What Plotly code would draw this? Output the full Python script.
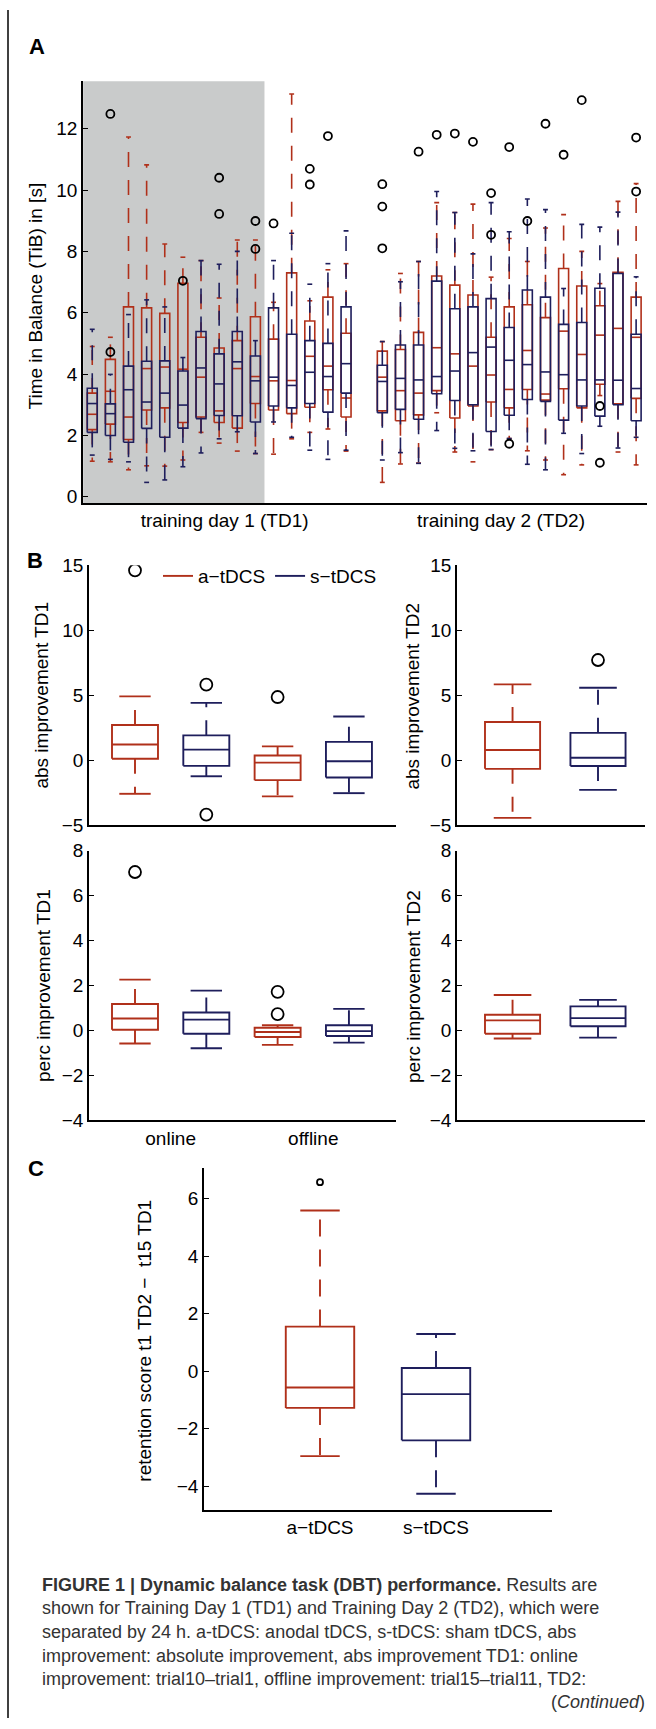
import plotly.graph_objects as go

W, H = 656, 1729
RED = '#B0301A'
NAVY = '#1E1E5C'
FONT = 'Liberation Sans, Arial, Helvetica, sans-serif'

# ---------------- Panel A data (Time in Balance per trial) ----------------
a_pos = list(range(1, 16)) + list(range(17, 32))
a_shade = [0.5, 10.5]
a_label_pos = [8.3, 23.55]
a_labels = ['training day 1 (TD1)', 'training day 2 (TD2)']

a_navy_lo = [1.36, 1.22, 1.14, 0.47, 0.55, 0.98, 1.43, 1.89, 2.12, 1.41, 2.44, 1.94, 1.52, 1.22, 1.52,
             1.20, 1.44, 1.09, 2.16, 1.58, 1.50, 1.54, 1.90, 1.06, 0.88, 2.07, 1.41, 2.30, 1.59, 1.94]
a_navy_q1 = [2.10, 2.00, 1.78, 2.23, 1.94, 2.24, 2.55, 2.65, 2.64, 2.44, 2.96, 2.90, 3.04, 2.76, 3.38,
             2.74, 2.85, 2.53, 3.36, 3.14, 3.00, 2.13, 2.66, 3.17, 3.11, 2.50, 2.96, 2.63, 3.00, 2.48]
a_navy_med = [3.04, 2.71, 3.49, 3.09, 3.38, 2.99, 4.20, 3.68, 4.40, 3.78, 3.90, 3.63, 4.06, 3.92, 4.34,
              3.76, 3.86, 3.81, 3.92, 4.10, 4.70, 4.88, 4.45, 4.31, 4.07, 3.98, 3.81, 3.81, 3.80, 3.53]
a_navy_q3 = [3.54, 3.03, 4.26, 4.42, 4.43, 4.10, 5.39, 4.66, 5.39, 4.59, 6.16, 5.30, 5.09, 5.00, 6.19,
             4.29, 4.95, 4.95, 7.03, 6.13, 6.19, 6.46, 5.52, 6.74, 6.51, 5.62, 5.68, 6.80, 7.28, 5.30]
a_navy_hi = [5.46, 3.99, 5.94, 6.42, 6.19, 4.54, 7.70, 7.58, 8.00, 5.09, 7.70, 8.59, 6.93, 7.60, 8.67,
             5.06, 7.01, 7.67, 9.95, 9.27, 7.92, 9.59, 8.64, 9.71, 9.36, 6.79, 8.88, 8.79, 9.28, 7.17]

a_red_lo = [1.16, 1.14, 0.88, 1.01, 1.00, 1.20, 2.10, 1.75, 1.49, 1.41, 1.39, 1.89, 2.10, 2.21, 1.49,
            0.47, 1.07, 1.10, 2.74, 1.46, 1.14, 1.54, 1.90, 1.50, 1.20, 0.72, 1.04, 3.30, 1.46, 1.04]
a_red_q1 = [2.19, 2.37, 1.87, 2.83, 2.90, 2.42, 2.60, 2.42, 2.24, 3.04, 2.83, 2.71, 2.92, 3.49, 2.60,
            2.80, 2.48, 2.67, 3.46, 2.57, 2.96, 3.09, 2.90, 3.50, 3.15, 3.52, 2.90, 3.67, 3.03, 3.21]
a_red_med = [2.69, 3.44, 2.60, 4.18, 4.23, 4.16, 3.90, 2.80, 4.18, 3.92, 3.78, 3.79, 4.58, 4.26, 3.22,
             3.90, 3.46, 3.38, 4.86, 4.66, 4.26, 3.97, 3.50, 4.77, 3.35, 5.40, 4.64, 5.27, 5.49, 5.20]
a_red_q3 = [3.38, 4.48, 6.19, 6.16, 5.98, 6.96, 5.20, 4.85, 5.09, 5.87, 5.14, 7.30, 5.73, 6.51, 5.33,
            4.75, 4.80, 5.36, 7.20, 6.90, 6.58, 5.20, 6.19, 6.26, 5.84, 7.44, 6.87, 6.23, 7.32, 6.51]
a_red_hi = [4.90, 5.20, 11.73, 10.82, 8.24, 7.81, 7.70, 6.48, 8.37, 8.37, 6.34, 13.13, 6.39, 7.40, 7.60,
            5.06, 7.28, 7.67, 9.59, 9.27, 9.54, 7.16, 8.42, 7.67, 8.76, 9.20, 8.00, 6.95, 9.63, 10.21]

a_out_pos = [2, 2, 6, 8, 8, 10, 10, 11, 13, 13, 14,
             17, 17, 17, 19, 20, 21, 22, 23, 23, 24, 24, 25, 26, 27, 28, 29, 29, 31, 31]
a_out_val = [12.48, 4.72, 7.04, 9.22, 10.40, 8.08, 8.99, 8.91, 10.18, 10.69, 11.76,
             8.10, 9.46, 10.19, 11.25, 11.80, 11.84, 11.57, 9.90, 8.54, 11.40, 1.73, 8.99, 12.16,
             11.15, 12.93, 1.11, 2.96, 9.95, 11.71]

# ---------------- Panel B data ----------------
b_td1_pos = [1, 2, 3, 4]
b_td1_colors = [RED, NAVY, RED, NAVY]
b_td1_labels_pos = [1.5, 3.5]
b_td1_labels = ['online', 'offline']
b_td2_pos = [1, 2]
b_td2_colors = [RED, NAVY]

abs1_lo = [-2.6, -1.25, -2.8, -2.55]
abs1_q1 = [0.1, -0.45, -1.55, -1.35]
abs1_med = [1.2, 0.8, -0.2, -0.1]
abs1_q3 = [2.7, 1.9, 0.35, 1.4]
abs1_hi = [4.9, 4.4, 1.05, 3.35]
abs1_out_pos = [1, 2, 2, 3]
abs1_out_val = [14.6, 5.8, -4.2, 4.85]

abs2_lo = [-4.45, -2.3]
abs2_q1 = [-0.68, -0.46]
abs2_med = [0.77, 0.18]
abs2_q3 = [2.93, 2.09]
abs2_hi = [5.82, 5.56]
abs2_out_pos = [2]
abs2_out_val = [7.7]

perc1_lo = [-0.58, -0.79, -0.64, -0.54]
perc1_q1 = [0.03, -0.15, -0.29, -0.25]
perc1_med = [0.53, 0.48, -0.07, -0.03]
perc1_q3 = [1.18, 0.80, 0.12, 0.23]
perc1_hi = [2.26, 1.77, 0.23, 0.96]
perc1_out_pos = [1, 3, 3]
perc1_out_val = [7.05, 1.72, 0.73]

perc2_lo = [-0.36, -0.32]
perc2_q1 = [-0.15, 0.19]
perc2_med = [0.45, 0.55]
perc2_q3 = [0.70, 1.07]
perc2_hi = [1.58, 1.36]
perc2_out_pos = []
perc2_out_val = []

# ---------------- Panel C data ----------------
c_pos = [1, 2]
c_labels = ['a\u2212tDCS', 's\u2212tDCS']
c_colors = [RED, NAVY]
c_lo = [-2.96, -4.27]
c_q1 = [-1.28, -2.41]
c_med = [-0.57, -0.80]
c_q3 = [1.55, 0.11]
c_hi = [5.59, 1.29]
c_out_pos = [1]
c_out_val = [6.58]

fig = go.Figure()


def add_boxes(xa, ya, pos, lo, q1, med, q3, hi, color, bw, cw, lw, dash, legend_name=None):
    bx, by, mx, my, wx, wy, cx, cy = [], [], [], [], [], [], [], []
    for p, l, a, m, b, h in zip(pos, lo, q1, med, q3, hi):
        bx += [p - bw / 2, p + bw / 2, p + bw / 2, p - bw / 2, p - bw / 2, None]
        by += [a, a, b, b, a, None]
        mx += [p - bw / 2, p + bw / 2, None]
        my += [m, m, None]
        wx += [p, p, None, p, p, None]
        wy += [b, h, None, a, l, None]
        cx += [p - cw / 2, p + cw / 2, None, p - cw / 2, p + cw / 2, None]
        cy += [h, h, None, l, l, None]
    common = dict(xaxis=xa, yaxis=ya, mode='lines', hoverinfo='skip')
    fig.add_trace(go.Scatter(x=wx, y=wy, line=dict(color=color, width=lw, dash=dash),
                             showlegend=False, **common))
    fig.add_trace(go.Scatter(x=cx, y=cy, line=dict(color=color, width=lw),
                             showlegend=False, **common))
    fig.add_trace(go.Scatter(x=bx, y=by, line=dict(color=color, width=lw),
                             name=legend_name or '', showlegend=legend_name is not None, **common))
    fig.add_trace(go.Scatter(x=mx, y=my, line=dict(color=color, width=lw),
                             showlegend=False, **common))


def add_outliers(xa, ya, pos, val, size):
    fig.add_trace(go.Scatter(x=pos, y=val, xaxis=xa, yaxis=ya, mode='markers',
                             marker=dict(symbol='circle-open', size=size, color='black',
                                         line=dict(width=1.8, color='black')),
                             showlegend=False, hoverinfo='skip'))


def split(colors, *arrs):
    out = {}
    for col in set(colors):
        out[col] = [[a[i] for i in range(len(colors)) if colors[i] == col] for a in arrs]
    return out


DASH = '15px,13px'

# Panel A
add_boxes('x', 'y', a_pos, a_red_lo, a_red_q1, a_red_med, a_red_q3, a_red_hi, RED, 0.55, 0.27, 1.6, DASH)
add_boxes('x', 'y', a_pos, a_navy_lo, a_navy_q1, a_navy_med, a_navy_q3, a_navy_hi, NAVY, 0.55, 0.27, 1.6, DASH)
add_outliers('x', 'y', a_out_pos, a_out_val, 8)

# Panel B
panels_b = [
    ('x2', 'y2', b_td1_pos, b_td1_colors, abs1_lo, abs1_q1, abs1_med, abs1_q3, abs1_hi, abs1_out_pos, abs1_out_val, True),
    ('x3', 'y3', b_td2_pos, b_td2_colors, abs2_lo, abs2_q1, abs2_med, abs2_q3, abs2_hi, abs2_out_pos, abs2_out_val, False),
    ('x4', 'y4', b_td1_pos, b_td1_colors, perc1_lo, perc1_q1, perc1_med, perc1_q3, perc1_hi, perc1_out_pos, perc1_out_val, False),
    ('x5', 'y5', b_td2_pos, b_td2_colors, perc2_lo, perc2_q1, perc2_med, perc2_q3, perc2_hi, perc2_out_pos, perc2_out_val, False),
]
for xa, ya, pos, cols, lo, q1, med, q3, hi, op, ov, leg in panels_b:
    groups = split(cols, pos, lo, q1, med, q3, hi)
    for col, name in [(RED, 'a\u2212tDCS'), (NAVY, 's\u2212tDCS')]:
        g = groups[col]
        add_boxes(xa, ya, *g, col, 0.645, 0.44, 1.9, DASH, legend_name=name if leg else None)
    add_outliers(xa, ya, op, ov, 12)

# Panel C
gc = split(c_colors, c_pos, c_lo, c_q1, c_med, c_q3, c_hi)
for col in [RED, NAVY]:
    add_boxes('x6', 'y6', *gc[col], col, 0.59, 0.34, 1.9, '17px,13px')
add_outliers('x6', 'y6', c_out_pos, c_out_val, 6)


def xd(a, b):
    return [a / W, b / W]


def yd(top, bottom):
    return [1 - bottom / H, 1 - top / H]


axis_common = dict(showline=True, linecolor='black', linewidth=1.5, mirror=False, showgrid=False,
                   zeroline=False, ticks='inside', ticklen=5, tickcolor='black', tickwidth=1.3,
                   tickfont=dict(size=19, color='black', family=FONT), fixedrange=True)
xnone = dict(axis_common, ticks='', showticklabels=False)

layout = dict(
    width=W, height=H, autosize=False, margin=dict(l=0, r=0, t=0, b=0),
    paper_bgcolor='white', plot_bgcolor='rgba(0,0,0,0)',
    font=dict(family=FONT, size=19, color='black'),
    showlegend=True,
    legend=dict(orientation='h', x=158 / W, y=1 - 573 / H, xanchor='left', yanchor='middle',
                bgcolor='rgba(0,0,0,0)', font=dict(size=19, color='black'), itemwidth=30,
                traceorder='normal'),
    xaxis=dict(axis_common, domain=xd(83, 647), range=[0.49, 31.6], anchor='y', ticks='',
               tickvals=a_label_pos, ticktext=a_labels),
    yaxis=dict(axis_common, domain=yd(72, 499), range=[-0.2, 13.55], anchor='x', dtick=2, tick0=0),
    xaxis2=dict(xnone, domain=xd(89, 396), range=[0.355, 4.66], anchor='y2'),
    yaxis2=dict(axis_common, domain=yd(562, 825), range=[-5, 15], anchor='x2', dtick=5, tick0=0),
    xaxis3=dict(xnone, domain=xd(457, 645), range=[0.35, 2.55], anchor='y3'),
    yaxis3=dict(axis_common, domain=yd(562, 825), range=[-5, 15], anchor='x3', dtick=5, tick0=0),
    xaxis4=dict(axis_common, domain=xd(89, 396), range=[0.355, 4.66], anchor='y4', ticks='',
                tickvals=b_td1_labels_pos, ticktext=b_td1_labels),
    yaxis4=dict(axis_common, domain=yd(851, 1124), range=[-4, 8], anchor='x4', dtick=2, tick0=0),
    xaxis5=dict(xnone, domain=xd(457, 645), range=[0.35, 2.55], anchor='y5'),
    yaxis5=dict(axis_common, domain=yd(851, 1124), range=[-4, 8], anchor='x5', dtick=2, tick0=0),
    xaxis6=dict(axis_common, domain=xd(204, 552), range=[0, 3], anchor='y6', ticks='',
                tickvals=c_pos, ticktext=c_labels),
    yaxis6=dict(axis_common, domain=yd(1172, 1518), range=[-4.82, 7.08], anchor='x6', dtick=2, tick0=0),
)
fig.update_layout(**layout)

# shaded TD1 online training region
fig.add_shape(type='rect', xref='x', yref='y domain', x0=a_shade[0], x1=a_shade[1], y0=0, y1=1,
              fillcolor='#c9cbcb', line=dict(width=0), layer='below')
# left page border
fig.add_shape(type='line', xref='paper', yref='paper', x0=8 / W, x1=8 / W, y0=0, y1=1,
              line=dict(color='black', width=1.5))

annots = []


def ann(x, y, text, size=19, angle=0, xanchor='center', color='black', family=FONT):
    annots.append(dict(x=x / W, y=1 - y / H, xref='paper', yref='paper', text=text, showarrow=False,
                       textangle=angle, xanchor=xanchor, yanchor='middle',
                       font=dict(size=size, color=color, family=family)))


ann(37, 37, '<b>A</b>', size=22)
ann(35, 557, '<b>B</b>', size=22)
ann(36, 1173, '<b>C</b>', size=22)
ann(35, 290, 'Time in Balance (TiB) in [s]', angle=-90)
ann(42, 694, 'abs improvement TD1', angle=-90)
ann(413, 694, 'abs improvement TD2', angle=-90)
ann(43, 988, 'perc improvement TD1', angle=-90)
ann(413, 988, 'perc improvement TD2', angle=-90)
ann(145, 1347, 'retention score t1 TD2 \u2212  t15 TD1', angle=-90)

CAP = '#333333'
cap_lines = [
    '<b>FIGURE 1 | Dynamic balance task (DBT) performance.</b> Results are',
    'shown for Training Day 1 (TD1) and Training Day 2 (TD2), which were',
    'separated by 24 h. a-tDCS: anodal tDCS, s-tDCS: sham tDCS, abs',
    'improvement: absolute improvement, abs improvement TD1: online',
    'improvement: trial10\u2013trial1, offline improvement: trial15\u2013trial11, TD2:',
]
cap_y = [1594, 1618, 1642, 1666, 1690]
for t, yy in zip(cap_lines, cap_y):
    ann(40, yy, t, size=18, xanchor='left', color=CAP)
ann(647, 1713, '(<i>Continued</i>)', size=18, xanchor='right', color=CAP)

fig.update_layout(annotations=annots)
fig.write_html('out.html', config={'displayModeBar': False},
               post_script="document.body.style.margin='0';document.body.style.overflow='hidden';")
